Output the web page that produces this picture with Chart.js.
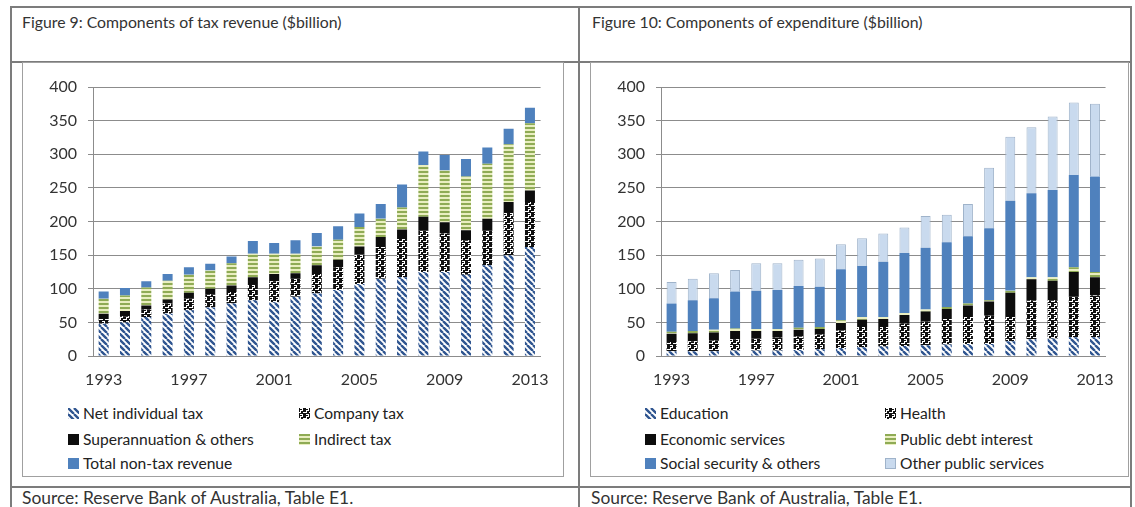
<!DOCTYPE html>
<html>
<head>
<meta charset="utf-8">
<script src="https://cdn.jsdelivr.net/npm/chart.js@4.4.1/dist/chart.umd.min.js"></script>
<style>
  body { margin: 0; width: 1135px; height: 507px; background: #fff; position: relative; overflow: hidden;
         font-family: Lato, "Open Sans", sans-serif; color: #222; }
  .rule { position: absolute; background: #7c7c7c; }
  .box { position: absolute; border: 1px solid #a0a0a0; box-sizing: border-box; }
  .caption { position: absolute; font-size: 15.8px; line-height: 18px; white-space: nowrap; color: #333; }
  .source { position: absolute; font-size: 17.4px; line-height: 20px; white-space: nowrap; color: #333; }
  canvas.chart { position: absolute; }
  .legend-item { position: absolute; font-size: 15.6px; line-height: 18px; white-space: nowrap; color: #222; }
  .legend-item canvas { position: absolute; left: 0; top: 4px; }
  .legend-item span { position: absolute; left: 15px; top: 0; }
</style>
</head>
<body>
  <!-- table frame -->
  <div class="rule" style="left:10px; top:6px; width:1122px; height:2px;"></div>
  <div class="rule" style="left:10px; top:61px; width:1122px; height:2px;"></div>
  <div class="rule" style="left:10px; top:486px; width:1122px; height:2px;"></div>
  <div class="rule" style="left:10px; top:6px; width:2px; height:501px;"></div>
  <div class="rule" style="left:578px; top:6px; width:2px; height:501px;"></div>
  <div class="rule" style="left:1130px; top:6px; width:2px; height:501px;"></div>

  <div class="caption" style="left:22px; top:13px;">Figure 9: Components of tax revenue ($billion)</div>
  <div class="caption" style="left:592px; top:13px;">Figure 10: Components of expenditure ($billion)</div>
  <div class="source" style="left:22px; top:488px;">Source: Reserve Bank of Australia, Table E1.</div>
  <div class="source" style="left:591px; top:488px;">Source: Reserve Bank of Australia, Table E1.</div>

  <div class="box" style="left:22px; top:62px; width:542px; height:415px;"></div>
  <div class="box" style="left:590px; top:62px; width:539px; height:415px;"></div>

  <canvas id="revenueChart" class="chart" width="540" height="333" style="left:23px; top:63px;"></canvas>
  <canvas id="expenditureChart" class="chart" width="537" height="333" style="left:591px; top:63px;"></canvas>

  <div id="revenueLegend"></div>
  <div id="expenditureLegend"></div>

<script>
const years = ['1993', '1994', '1995', '1996', '1997', '1998', '1999', '2000', '2001', '2002', '2003',
               '2004', '2005', '2006', '2007', '2008', '2009', '2010', '2011', '2012', '2013'];
const yTicks = [0, 50, 100, 150, 200, 250, 300, 350, 400];

// Tax revenue, $billion
const netIndividualTax = [48, 50, 58, 63, 68, 72, 78, 83, 80, 88, 93, 98, 107, 115, 117, 125, 125, 121, 135, 150, 162];
const companyTax       = [7, 9, 11, 15, 17, 20, 17, 24, 31, 27, 29, 34, 44, 47, 57, 62, 57, 51, 52, 64, 67];
const superAndOthers   = [8, 8, 6, 6, 9, 8, 10, 10, 11, 8, 13, 11, 12, 15, 14, 20, 17, 15, 17, 15, 17];
const indirectTax      = [22, 23, 27, 28, 27, 27, 33, 35, 30, 29, 28, 30, 29, 27, 33, 77, 77, 80, 82, 86, 100];
const nonTaxRevenue    = [11, 11, 9, 10, 11, 10, 10, 19, 16, 20, 20, 20, 20, 22, 34, 20, 23, 26, 24, 23, 23];

// Expenditure, $billion
const education          = [7, 7, 7, 8, 8, 8, 9, 10, 12, 13, 14, 15, 16, 17, 18, 18, 22, 25, 26, 28, 28];
const health             = [14, 15, 16, 17, 18, 19, 20, 22, 26, 30, 29, 33, 35, 38, 40, 42, 36, 58, 57, 60, 62];
const economicServices   = [12, 12, 12, 12, 11, 10, 10, 8, 11, 11, 12, 13, 15, 15, 17, 21, 36, 31, 29, 37, 27];
const publicDebtInterest = [3, 3, 4, 4, 3, 3, 3, 3, 4, 4, 3, 3, 3, 3, 3, 2, 3, 3, 5, 7, 8];
const socialSecurity     = [42, 46, 47, 55, 57, 58, 62, 60, 76, 76, 82, 89, 92, 96, 100, 107, 134, 125, 130, 137, 142];
const otherServices      = [32, 32, 37, 32, 41, 40, 39, 42, 37, 41, 42, 38, 47, 41, 48, 90, 95, 98, 109, 108, 108];

function makePattern(size, draw) {
    const c = document.createElement('canvas');
    c.width = size;
    c.height = size;
    const g = c.getContext('2d');
    draw(g, size);
    return g.createPattern(c, 'repeat');
}

// navy "\" hatch
const hatchFill = makePattern(6, function (g, s) {
    g.fillStyle = '#ffffff';
    g.fillRect(0, 0, s, s);
    g.strokeStyle = '#2f5590';
    g.lineWidth = 2.4;
    g.beginPath();
    for (let k = -1; k <= 1; k++) {
        g.moveTo(k * s, 0);
        g.lineTo(k * s + s, s);
    }
    g.stroke();
});

// black with white hook-shaped marks
const weaveFill = makePattern(6, function (g, s) {
    g.fillStyle = '#111111';
    g.fillRect(0, 0, s, s);
    g.fillStyle = '#ffffff';
    g.fillRect(1, 0, 3, 1);
    g.fillRect(3, 0, 1, 3);
    g.fillRect(1, 2, 3, 1);
    g.fillRect(0, 4, 2, 1);
    g.fillRect(4, 4, 2, 1);
    g.fillRect(1, 3, 1, 2);
});

// olive / pale yellow horizontal stripes
const stripeFill = makePattern(4, function (g, s) {
    g.fillStyle = '#e9eec0';
    g.fillRect(0, 0, s, s);
    g.fillStyle = '#8fab55';
    g.fillRect(0, 0, s, 2);
});

const solidBlack = '#0d0d0d';
const midBlue = '#4f81bd';
const paleBlue = '#c9daee';

function series(label, data, fill, border) {
    return {
        label: label,
        data: data,
        backgroundColor: fill,
        borderColor: border || 'rgba(0,0,0,0)',
        borderWidth: border ? 1 : 0,
        barPercentage: 0.47,
        categoryPercentage: 1
    };
}

const tickFont = { family: 'Lato', size: 16 };

function initializeChart(canvasId, datasets, rightPad) {
    return new Chart(document.getElementById(canvasId), {
        type: 'bar',
        data: { labels: years, datasets: datasets },
        options: {
            responsive: false,
            animation: false,
            devicePixelRatio: 1,
            layout: { padding: { top: 24, right: rightPad, bottom: 0, left: 0 } },
            plugins: { legend: { display: false }, tooltip: { enabled: false } },
            scales: {
                x: {
                    stacked: true,
                    grid: { display: false, drawTicks: false },
                    border: { color: '#8c8c8c', width: 1 },
                    ticks: {
                        autoSkip: false,
                        maxRotation: 0,
                        padding: 14,
                        color: '#333',
                        font: tickFont,
                        callback: function (v, i) { return i % 4 === 0 ? years[i] : ''; }
                    },
                    afterFit: function (scale) { scale.height = 40; }
                },
                y: {
                    stacked: true,
                    min: yTicks[0],
                    max: yTicks[yTicks.length - 1],
                    afterBuildTicks: function (scale) {
                        scale.ticks = yTicks.map(function (v) { return { value: v }; });
                    },
                    ticks: { padding: 11, color: '#333', font: tickFont },
                    grid: { color: '#8c8c8c', lineWidth: 1, tickLength: 5 },
                    border: { color: '#8c8c8c', width: 1 },
                    afterFit: function (scale) { scale.width = 70; }
                }
            }
        }
    });
}

function drawSwatch(fill, border) {
    const c = document.createElement('canvas');
    c.width = 11;
    c.height = 11;
    const g = c.getContext('2d');
    g.fillStyle = fill;
    g.fillRect(0, 0, 11, 11);
    if (border) {
        g.strokeStyle = border;
        g.lineWidth = 1;
        g.strokeRect(0.5, 0.5, 10, 10);
    }
    return c;
}

function buildLegend(holderId, datasets, colX, rowY) {
    const holder = document.getElementById(holderId);
    datasets.forEach(function (ds, i) {
        const item = document.createElement('div');
        item.className = 'legend-item';
        item.style.left = colX[i % 2] + 'px';
        item.style.top = (rowY[Math.floor(i / 2)] - 9) + 'px';
        item.appendChild(drawSwatch(ds.backgroundColor, ds.borderWidth ? ds.borderColor : null));
        const text = document.createElement('span');
        text.textContent = ds.label;
        item.appendChild(text);
        holder.appendChild(item);
    });
}

const revenueSeries = [
    series('Net individual tax', netIndividualTax, hatchFill),
    series('Company tax', companyTax, weaveFill),
    series('Superannuation & others', superAndOthers, solidBlack),
    series('Indirect tax', indirectTax, stripeFill),
    series('Total non-tax revenue', nonTaxRevenue, midBlue)
];

const expenditureSeries = [
    series('Education', education, hatchFill),
    series('Health', health, weaveFill),
    series('Economic services', economicServices, solidBlack),
    series('Public debt interest', publicDebtInterest, stripeFill),
    series('Social security & others', socialSecurity, midBlue),
    series('Other public services', otherServices, paleBlue, '#9fb3ca')
];

document.fonts.load('16px Lato').then(function () {
    initializeChart('revenueChart', revenueSeries, 21);
    initializeChart('expenditureChart', expenditureSeries, 20);
    buildLegend('revenueLegend', revenueSeries, [68, 299], [413, 439, 463]);
    buildLegend('expenditureLegend', expenditureSeries, [645, 885], [413, 439, 463]);
});
</script>
</body>
</html>
